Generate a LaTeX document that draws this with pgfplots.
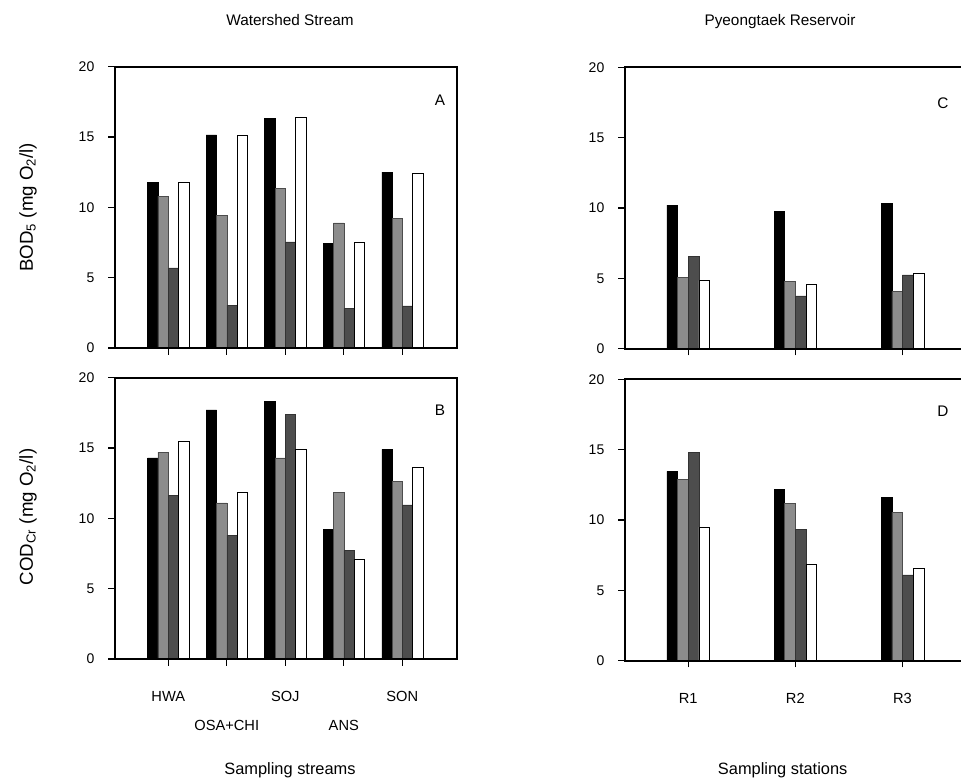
\documentclass[border=0pt]{standalone}
\usepackage{pgfplots}
\pgfplotsset{compat=1.18}
\usepackage{fontspec}
\setmainfont{Liberation Sans}
\definecolor{midgray}{HTML}{8C8C8C}
\definecolor{darkgray}{HTML}{4D4D4D}
\pgfplotsset{
  panel/.style={
    scale only axis, anchor=south west,
    width=256.3pt, height=211pt,
    ymin=0, ymax=20, ytick={0,5,10,15,20},
    axis on top,
    axis line style={line width=1.4pt},
    tick style={line width=1pt, black},
    tick align=outside, major tick length=5pt,
    xtick pos=left, ytick pos=left,
    ybar=0pt,
    /pgf/number format/assume math mode=true,
    yticklabel style={font=\fontsize{10.5}{12}\selectfont, xshift=-7pt},
    xtick=data,
  },
  leftp/.style={panel, xmin=-0.91, xmax=4.93, bar width=7.7pt},
  rightp/.style={panel, xmin=-0.59, xmax=2.60, bar width=8.0pt},
  s1/.style={fill=black, draw=black, line width=0.4pt},
  s2/.style={fill=midgray, draw=black!70, line width=0.4pt},
  s3/.style={fill=darkgray, draw=black!80, line width=0.4pt},
  s4/.style={fill=white, draw=black, line width=0.4pt},
}
\begin{document}
\begin{tikzpicture}
% Panel A
\begin{axis}[leftp, at={(86.25pt,325.5pt)}, xticklabels={}]
\addplot[s1] coordinates {(0,11.8) (1,15.15) (2,16.35) (3,7.45) (4,12.5)};
\addplot[s2] coordinates {(0,10.8) (1,9.45) (2,11.35) (3,8.9) (4,9.2)};
\addplot[s3] coordinates {(0,5.7) (1,3.05) (2,7.55) (3,2.8) (4,3.0)};
\addplot[s4] coordinates {(0,11.8) (1,15.1) (2,16.4) (3,7.5) (4,12.45)};
\end{axis}
% Panel B
\begin{axis}[leftp, at={(86.25pt,92.3pt)},
  xticklabels={HWA,\raisebox{-22pt}{OSA+CHI},SOJ,\raisebox{-22pt}{ANS},SON},
  xticklabel style={anchor=base, yshift=-27pt, font=\fontsize{11}{12}\selectfont}]
\addplot[s1] coordinates {(0,14.3) (1,17.7) (2,18.3) (3,9.2) (4,14.9)};
\addplot[s2] coordinates {(0,14.7) (1,11.1) (2,14.3) (3,11.85) (4,12.6)};
\addplot[s3] coordinates {(0,11.6) (1,8.8) (2,17.4) (3,7.7) (4,10.95)};
\addplot[s4] coordinates {(0,15.45) (1,11.85) (2,14.9) (3,7.1) (4,13.6)};
\end{axis}
% Panel C
\begin{axis}[rightp, at={(468.75pt,325pt)}, xticklabels={}]
\addplot[s1] coordinates {(0,10.2) (1,9.75) (2,10.35)};
\addplot[s2] coordinates {(0,5.05) (1,4.8) (2,4.05)};
\addplot[s3] coordinates {(0,6.55) (1,3.75) (2,5.25)};
\addplot[s4] coordinates {(0,4.85) (1,4.6) (2,5.35)};
\end{axis}
% Panel D
\begin{axis}[rightp, at={(468.75pt,91pt)},
  xticklabels={R1,R2,R3},
  xticklabel style={anchor=base, yshift=-27pt, font=\fontsize{11}{12}\selectfont}]
\addplot[s1] coordinates {(0,13.45) (1,12.15) (2,11.6)};
\addplot[s2] coordinates {(0,12.9) (1,11.2) (2,10.55)};
\addplot[s3] coordinates {(0,14.8) (1,9.35) (2,6.1)};
\addplot[s4] coordinates {(0,9.5) (1,6.85) (2,6.6)};
\end{axis}
% texts
\node[font=\fontsize{11.5}{13}\selectfont] at (217.5pt,571.5pt) {Watershed Stream};
\node[font=\fontsize{11.5}{13}\selectfont] at (585pt,570pt) {Pyeongtaek Reservoir};
\node[font=\fontsize{12.3}{14}\selectfont] at (217.5pt,9pt) {Sampling streams};
\node[font=\fontsize{12.3}{14}\selectfont] at (587pt,9pt) {Sampling stations};
\node[rotate=90, font=\fontsize{14}{16}\selectfont] at (21pt,431pt) {BOD\textsubscript{5} (mg O\textsubscript{2}/l)};
\node[rotate=90, font=\fontsize{14}{16}\selectfont] at (21pt,198.75pt) {COD\textsubscript{Cr} (mg O\textsubscript{2}/l)};
\node[font=\fontsize{11.5}{13}\selectfont] at (330pt,511.5pt) {A};
\node[font=\fontsize{11.5}{13}\selectfont] at (330pt,279pt) {B};
\node[font=\fontsize{11.5}{13}\selectfont] at (707.25pt,509.25pt) {C};
\node[font=\fontsize{11.5}{13}\selectfont] at (707.25pt,278.25pt) {D};
\pgfresetboundingbox
\useasboundingbox (0,0) rectangle (720.75pt,586.5pt);
\end{tikzpicture}
\end{document}
